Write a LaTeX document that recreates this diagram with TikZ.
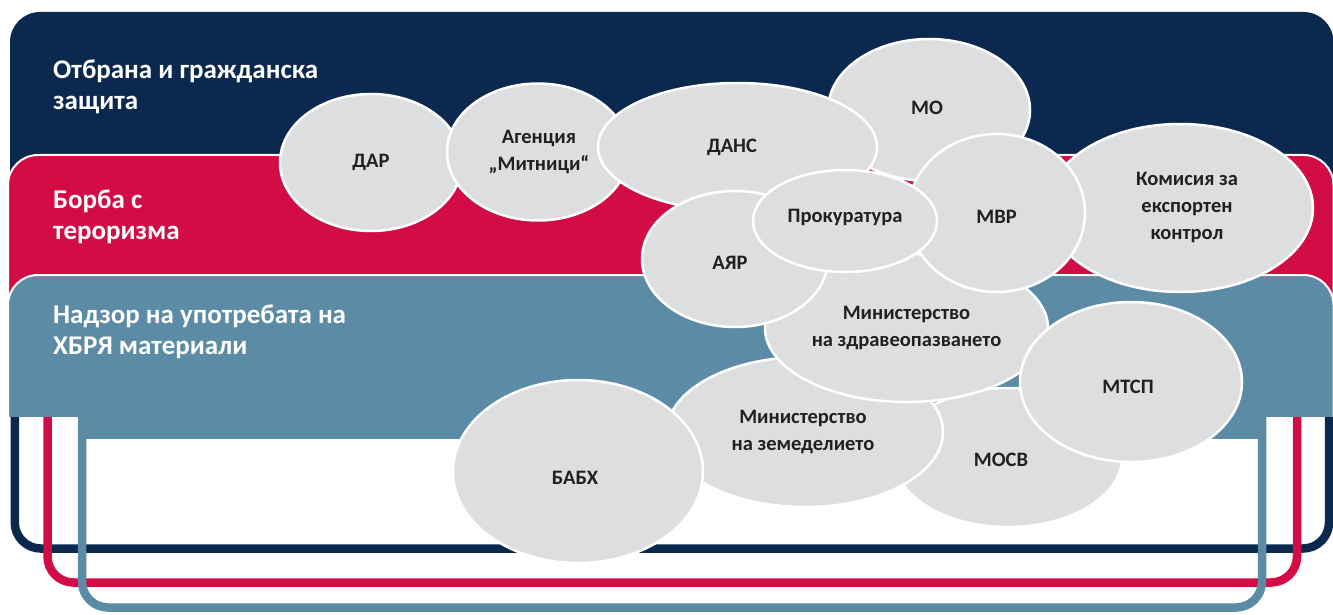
\documentclass[tikz,border=0pt]{standalone}
\usepackage{fontspec}
\setmainfont{Carlito}
\usetikzlibrary{shapes.geometric}
\definecolor{navyc}{RGB}{11,40,78}
\definecolor{redc}{RGB}{210,13,69}
\definecolor{bluec}{RGB}{92,139,165}
\definecolor{ellc}{RGB}{221,222,224}
\definecolor{txtc}{RGB}{35,31,32}
\begin{document}
\begin{tikzpicture}[x=1pt,y=-1pt,
  org/.style={ellipse, fill=ellc, draw=white, line width=2.5pt, inner sep=0pt},
  lab/.style={inner sep=0pt, text=txtc, align=center, font=\bfseries\fontsize{20.5}{27}\selectfont},
  head/.style={anchor=west, inner sep=0pt, text=white, align=left, font=\bfseries\fontsize{27}{31}\selectfont},
  frameline/.style={line width=8.5pt, rounded corners=26pt},
  bandedge/.style={draw=white, line width=2pt, rounded corners=30pt}]
\useasboundingbox (0,0) rectangle (1333,615);
% navy band
\fill[navyc, rounded corners=30pt] (10,12) rectangle (1333.5,300);
\draw[frameline, navyc] (14.75,40) rectangle (1329,548.5);
% red band
\fill[redc, rounded corners=30pt] (8,155) rectangle (1333.5,380);
\draw[bandedge] (8,380) -- (8,155) -- (1333.5,155) -- (1333.5,380);
\draw[frameline, redc] (47.5,180) rectangle (1297,582.5);
% blue band
\fill[bluec, rounded corners=30pt] (8,275) rectangle (1333.5,400);
\fill[bluec] (8,330) rectangle (1333.5,417);
\draw[bandedge] (8,417) -- (8,275) -- (1333.5,275) -- (1333.5,417);
\fill[bluec] (78,400) rectangle (1266,439);
\draw[frameline, bluec] (82,380) rectangle (1262,607.5);
% headings
\node[head] (h1) at (53,87) {Отбрана и гражданска\\защита};
\node[head] (h2) at (53,217) {Борба с\\тероризма};
\node[head] (h3) at (53,332) {Надзор на употребата на\\ХБРЯ материали};
% organisations
\node[org, minimum width=202pt, minimum height=142pt,
  label={[lab, xshift=-2pt, yshift=2pt]center:МО}] (mo) at (929,110) {};
\node[org, minimum width=182pt, minimum height=137pt,
  label={[lab]center:ДАР}] (dar) at (371,162.5) {};
\node[org, minimum width=182pt, minimum height=137pt,
  label={[lab, xshift=1pt]center:Агенция\\„Митници“}] (agm) at (538,152) {};
\node[org, minimum width=279pt, minimum height=128pt,
  label={[lab, xshift=-5.5pt]center:ДАНС}] (dans) at (737.5,147) {};
\node[org, minimum width=228pt, minimum height=139pt,
  label={[lab, xshift=-7pt, yshift=-2.5pt]center:МОСВ}] (mosv) at (1008,457.5) {};
\node[org, minimum width=276pt, minimum height=150pt,
  label={[lab, xshift=-2pt]center:Министерство\\на земеделието}] (mz) at (805,432) {};
\node[org, minimum width=250pt, minimum height=183pt,
  label={[lab, xshift=-3pt, yshift=-6.5pt]center:БАБХ}] (babh) at (578,471.5) {};
\node[org, minimum width=283pt, minimum height=148pt,
  label={[lab]center:Министерство\\на здравеопазването}] (mzdr) at (906.5,328) {};
\node[org, minimum width=266pt, minimum height=168pt,
  label={[lab, xshift=7pt, yshift=1pt]center:Комисия за\\експортен\\контрол}] (kek) at (1180,208) {};
\node[org, minimum width=186pt, minimum height=136pt,
  label={[lab, xshift=-5pt, yshift=-4pt]center:АЯР}] (ayar) at (735,259) {};
\node[org, minimum width=177pt, minimum height=158pt,
  label={[lab, yshift=-4pt]center:МВР}] (mvr) at (996.5,213) {};
\node[org, minimum width=184pt, minimum height=102pt,
  label={[lab, yshift=4pt]center:Прокуратура}] (prok) at (845,221) {};
\node[org, minimum width=222pt, minimum height=160pt,
  label={[lab, xshift=-3pt, yshift=-5pt]center:МТСП}] (mtsp) at (1131,382) {};
\end{tikzpicture}
\end{document}
